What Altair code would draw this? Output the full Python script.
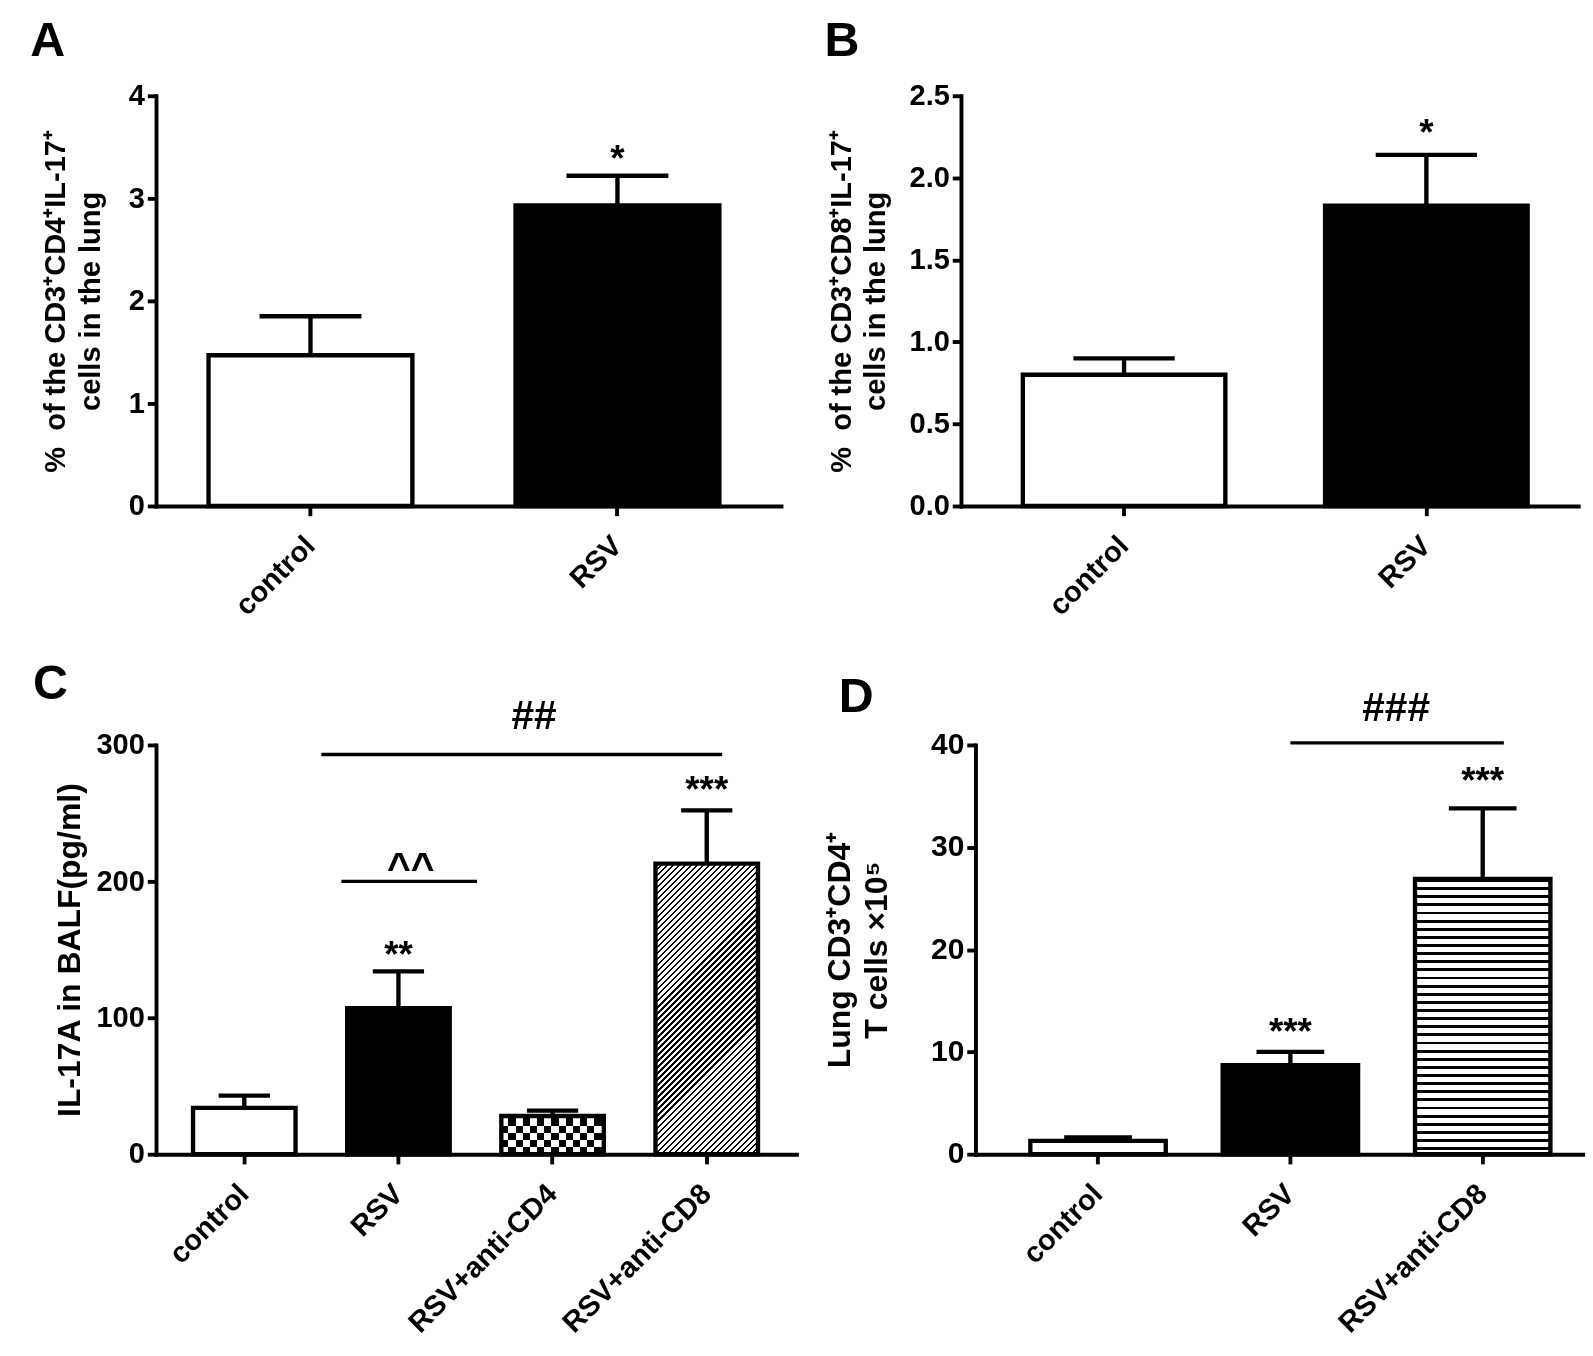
import altair as alt
import pandas as pd

FONT = "Liberation Sans"

# ---------------- data ----------------
a_groups = ["control", "RSV"]
a_means = [1.47, 2.93]
a_upper = [1.85, 3.22]
a_stars = ["", "*"]
a_star_y = [0, 3.27]

b_groups = ["control", "RSV"]
b_means = [0.80, 1.83]
b_upper = [0.90, 2.14]
b_stars = ["", "*"]
b_star_y = [0, 2.20]

c_groups = ["control", "RSV", "RSV+anti-CD4", "RSV+anti-CD8"]
c_means = [34, 107, 28, 213]
c_upper = [43, 134, 32, 252]
c_stars = ["", "**", "", "***"]
c_star_y = [0, 137, 0, 258]
# bracket label, line from / to (category index units), line y, label x, label y
c_br_label = ["^^", "##"]
c_br_x1 = [0.63, 0.50]
c_br_x2 = [1.51, 3.10]
c_br_y = [200, 293]
c_br_tx = [1.08, 1.88]
c_br_ty = [200, 312]

d_groups = ["control", "RSV", "RSV+anti-CD8"]
d_means = [1.3, 8.7, 26.9]
d_upper = [1.65, 10.0, 33.8]
d_stars = ["", "***", "***"]
d_star_y = [0, 10.8, 35.3]
d_br_label = ["###"]
d_br_x1 = [1.0]
d_br_x2 = [2.11]
d_br_y = [40.2]
d_br_tx = [1.55]
d_br_ty = [42.3]


# ---------------- styling helpers ----------------
def stripe_stops(n, duty, c_on="black", c_off="white"):
    stops = []
    k = 0
    while k < n:
        o0 = min(k / n, 1.0)
        o1 = min((k + duty) / n, 1.0)
        o2 = min((k + 1) / n, 1.0)
        stops += [
            {"offset": o0, "color": c_on},
            {"offset": o1, "color": c_on},
            {"offset": o1, "color": c_off},
            {"offset": o2, "color": c_off},
        ]
        k += 1
    return stops


def band_geom(n, W, pi, po, al):
    step = W / (n - pi + 2 * po)
    start = (W - step * (n - pi)) * al
    bw = step * (1 - pi)
    c0 = start + bw / 2
    return step, bw, c0


def panel(letter, groups, means, upper, stars, star_y, fills, patterns,
          ytitle, ymax, yvals, yfmt, W, H, pi, po, al, ytitle_size,
          title_pad, label_size, t_offset, t_dx, brackets=None):
    n = len(groups)
    step, bw, c0 = band_geom(n, W, pi, po, al)
    df = pd.DataFrame({"g": groups, "m": means, "u": upper,
                       "s": stars, "sy": star_y, "f": fills, "p": patterns})
    xscale = alt.Scale(domain=groups, paddingInner=pi, paddingOuter=po, align=al)
    xaxis = alt.Axis(title=None, labelAngle=-45, labelAlign="right",
                     labelBaseline="middle", labelFont=FONT, labelFontSize=30,
                     labelFontWeight="bold", labelColor="black", labelPadding=26,
                     labelLimit=400, labelOverlap=False, tickSize=10,
                     tickWidth=4, tickColor="black", domainWidth=4,
                     domainColor="black", domainCap="square")
    ysc = alt.Scale(domain=[0, ymax], nice=False, zero=True)
    yaxis = alt.Axis(values=yvals, format=yfmt, title=ytitle, grid=False,
                     titleFont=FONT, titleFontSize=ytitle_size,
                     titleFontWeight="bold", titleColor="black",
                     titleLineHeight=ytitle_size * 1.18, titlePadding=title_pad,
                     labelFont=FONT, labelFontSize=label_size,
                     labelFontWeight="bold", labelColor="black",
                     labelPadding=3, tickSize=9, tickWidth=4,
                     tickColor="black", domainWidth=4, domainColor="black",
                     domainCap="square")
    X = alt.X("g:N", scale=xscale, axis=xaxis)

    def Y(field):
        return alt.Y(field, scale=ysc, axis=yaxis)

    base = alt.Chart(df)

    layers = []
    layers.append(base.mark_bar(strokeWidth=0).encode(
        x=X, y=Y("m:Q"), fill=alt.Fill("f:N", scale=None)))

    for i, p in enumerate(patterns):
        if not p:
            continue
        h = means[i] / ymax * H
        sel = base.transform_filter(alt.datum.g == groups[i])
        if p == "hline":
            grad = {"gradient": "linear", "x1": 0, "y1": 0, "x2": 0, "y2": 1,
                    "stops": stripe_stops(h / 8.4, 0.36)}
            layers.append(sel.mark_bar(fill=grad, strokeWidth=0).encode(
                x=X, y=Y("m:Q")))
        elif p == "diag":
            t = (bw + h) / (bw * bw + h * h)
            length = (bw + h) / 2 ** 0.5
            grad = {"gradient": "linear", "x1": 0, "y1": 0,
                    "x2": t * bw, "y2": t * h,
                    "stops": stripe_stops(length / 4.4, 0.4)}
            layers.append(sel.mark_bar(fill=grad, strokeWidth=0).encode(
                x=X, y=Y("m:Q")))
        elif p == "checker":
            sq = 7.4
            g1 = {"gradient": "linear", "x1": 0, "y1": 0, "x2": 1, "y2": 0,
                  "stops": stripe_stops(bw / (2 * sq), 0.5)}
            g2 = {"gradient": "linear", "x1": 0, "y1": 1, "x2": 0, "y2": 0,
                  "stops": stripe_stops(h / (2 * sq), 0.5, "white", "black")}
            layers.append(sel.mark_bar(fill=g1, strokeWidth=0).encode(
                x=X, y=Y("m:Q")))
            layers.append(sel.mark_bar(fill=g2, strokeWidth=0,
                                       blend="difference").encode(
                x=X, y=Y("m:Q")))

    # outlines
    layers.append(base.mark_bar(fillOpacity=0, stroke="black", strokeWidth=4.5,
                                strokeJoin="miter").encode(x=X, y=Y("m:Q")))
    # error bars (upper only)
    layers.append(base.mark_rule(color="black", strokeWidth=4.5).encode(
        x=X, y=Y("m:Q"), y2="u:Q"))
    layers.append(base.mark_tick(color="black", thickness=4.5, opacity=1,
                                 size=bw * 0.5).encode(x=X, y=Y("u:Q")))
    # significance stars
    layers.append(base.transform_filter(alt.datum.s != "").mark_text(
        font=FONT, fontSize=38, fontWeight="bold", color="black",
        baseline="alphabetic").encode(x=X, y=Y("sy:Q"), text="s:N"))

    chart = alt.layer(*layers)
    if brackets is not None:
        lab, x1, x2, ly, tx, ty = brackets
        bdf = pd.DataFrame({"lab": lab, "x1": x1, "x2": x2, "ly": ly,
                            "tx": tx, "ty": ty})
        qsc = alt.Scale(domain=[-c0 / step, (W - c0) / step], nice=False,
                        zero=False)
        rule = alt.Chart(bdf).mark_rule(color="black", strokeWidth=3.5).encode(
            x=alt.X("x1:Q", scale=qsc, axis=None), x2="x2:Q", y=Y("ly:Q"))
        txt = alt.Chart(bdf).mark_text(
            font=FONT, fontSize=42, fontWeight="bold", color="black",
            baseline="alphabetic").encode(
            x=alt.X("tx:Q", scale=qsc, axis=None), y=Y("ty:Q"),
            text="lab:N")
        chart = alt.layer(chart, rule, txt).resolve_scale(x="independent")

    return chart.properties(
        width=W, height=H,
        title=alt.TitleParams(text=letter, anchor="start", font=FONT,
                              fontSize=50, fontWeight="bold", color="black",
                              offset=t_offset, dx=t_dx))


pa = panel("A", a_groups, a_means, a_upper, a_stars, a_star_y,
           ["white", "black"], ["", ""],
           ["%\u00a0 of the CD3\u207aCD4\u207aIL-17\u207a", "cells in the lung"],
           4, [0, 1, 2, 3, 4], "d", 646, 424, 0.336, 0.186, 0.46, 30,
           24, 30, 16, -12)
pb = panel("B", b_groups, b_means, b_upper, b_stars, b_star_y,
           ["white", "black"], ["", ""],
           ["%\u00a0 of the CD3\u207aCD8\u207aIL-17\u207a", "cells in the lung"],
           2.5, [0, 0.5, 1.0, 1.5, 2.0, 2.5], ".1f", 638, 424, 0.33, 0.186,
           0.55, 30, 19, 30, 16, -3)
pc = panel("C", c_groups, c_means, c_upper, c_stars, c_star_y,
           ["white", "black", "white", "white"], ["", "", "checker", "diag"],
           "IL-17A in BALF(pg/ml)", 300, [0, 100, 200, 300], "d",
           662, 423, 0.335, 0.245, 0.49, 33, 10, 30, -13, -22,
           (c_br_label, c_br_x1, c_br_x2, c_br_y, c_br_tx, c_br_ty))
pd_ = panel("D", d_groups, d_means, d_upper, d_stars, d_star_y,
            ["white", "black", "white"], ["", "", "hline"],
            ["Lung CD3\u207aCD4\u207a", "T cells \u00d710\u2075"], 40,
            [0, 10, 20, 30, 40], "d", 629, 423, 0.296, 0.23, 0.62, 33,
            38, 31, -34, 15,
            (d_br_label, d_br_x1, d_br_x2, d_br_y, d_br_tx, d_br_ty))

chart = alt.concat(
    pa, pb, pc, pd_, columns=2,
    align={"row": "each", "column": "none"},
    spacing={"row": 39, "column": 27},
).properties(
    padding={"left": 22, "top": -14, "right": 0, "bottom": 0}
).configure_view(stroke="transparent")

chart.save("out.html", embed_options={"renderer": "svg", "actions": False})
